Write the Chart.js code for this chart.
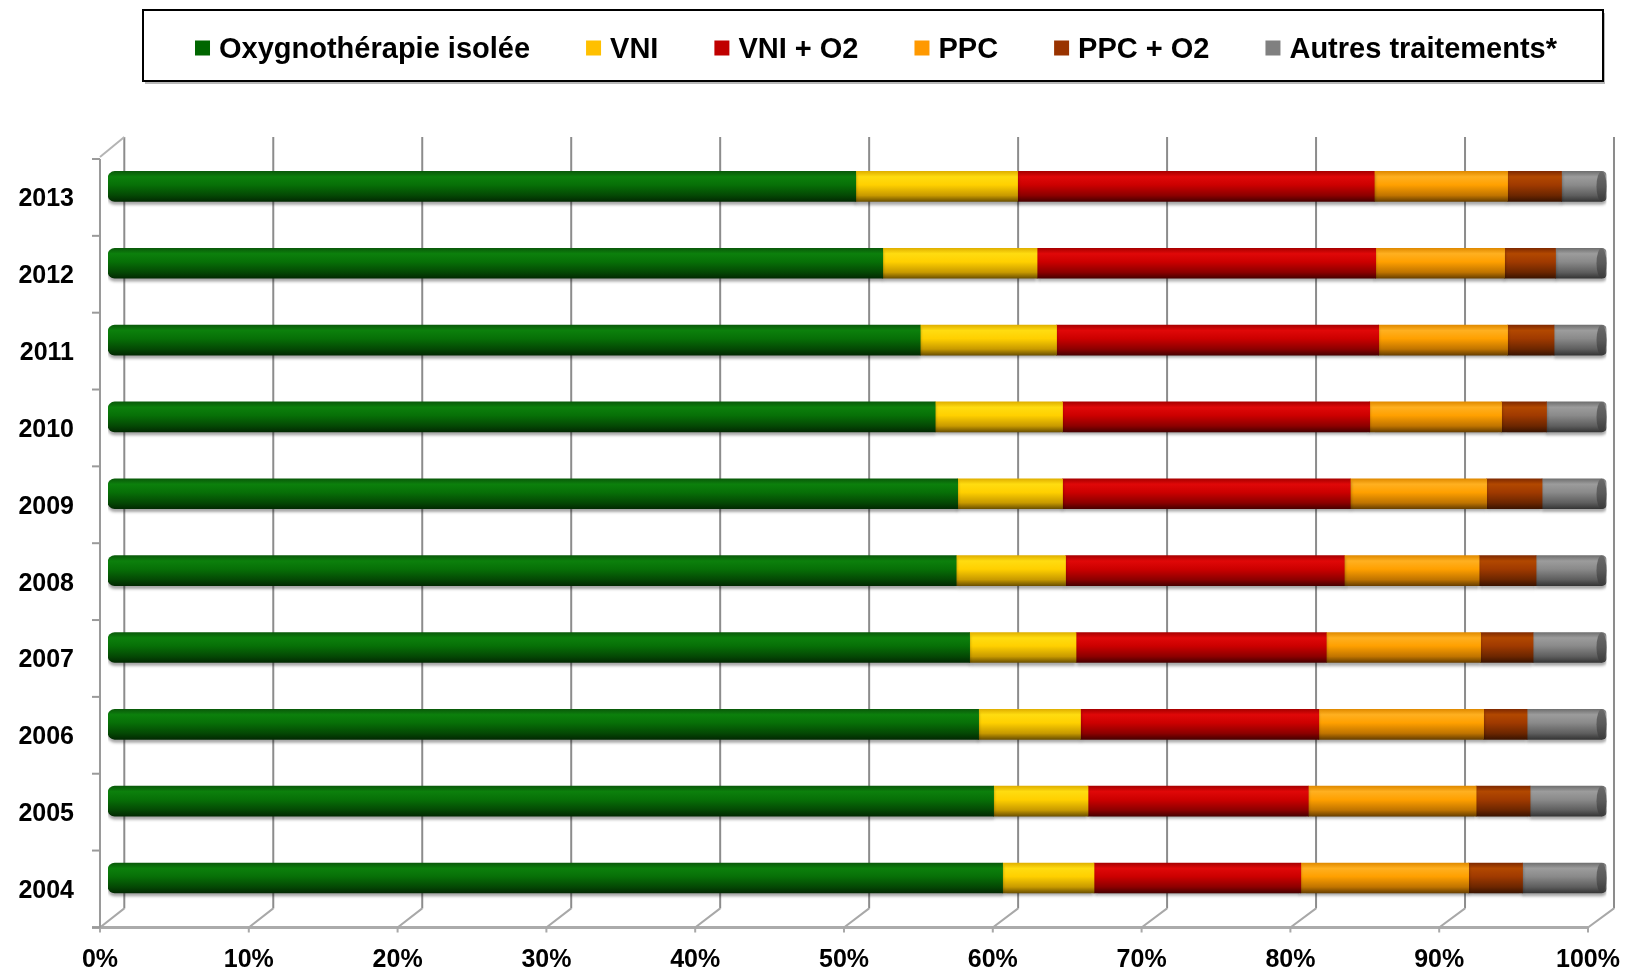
<!DOCTYPE html>
<html>
<head>
<meta charset="utf-8">
<script src="https://cdn.jsdelivr.net/npm/chart.js@4/dist/chart.umd.min.js"></script>
<style>
html,body{margin:0;padding:0;background:#ffffff;}
canvas{display:block;}
</style>
</head>
<body>
<canvas id="c" width="1625" height="973"></canvas>
<script>
// ---------- DATA ----------
const years = ['2004','2005','2006','2007','2008','2009','2010','2011','2012','2013'];
const seriesNames = ['Oxygnothérapie isolée','VNI','VNI + O2','PPC','PPC + O2','Autres traitements*'];
const oxygeno   = [59.7, 59.1, 58.1, 57.5, 56.6, 56.7, 55.2, 54.2, 51.7, 49.9];
const vni       = [ 6.1,  6.3,  6.8,  7.1,  7.3,  7.0,  8.5,  9.1, 10.3, 10.8];
const vniO2     = [13.8, 14.7, 15.9, 16.7, 18.6, 19.2, 20.5, 21.5, 22.6, 23.8];
const ppc       = [11.2, 11.2, 11.0, 10.3,  9.0,  9.1,  8.8,  8.6,  8.6,  8.9];
const ppcO2     = [ 3.6,  3.6,  2.9,  3.5,  3.8,  3.7,  3.0,  3.1,  3.4,  3.6];
const autres    = [ 5.6,  5.1,  5.3,  4.9,  4.7,  4.3,  4.0,  3.5,  3.4,  3.0];
const tickValues = [0,10,20,30,40,50,60,70,80,90,100];

// ---------- STYLE ----------
const FONT = '"Liberation Sans", Arial, Helvetica, sans-serif';
const palette = [
  {legend:'#006600', top:'#0a5a0a', light:'#0c800c', base:'#077007', dark:'#044804', darkest:'#022a02'},
  {legend:'#ffc000', top:'#e0b000', light:'#ffdc10', base:'#ffd000', dark:'#c89a00', darkest:'#6e5200'},
  {legend:'#c00000', top:'#a80000', light:'#e00808', base:'#cc0000', dark:'#8c0000', darkest:'#4a0000'},
  {legend:'#ff9900', top:'#e08a00', light:'#ffb020', base:'#ffa000', dark:'#c07400', darkest:'#6a4000'},
  {legend:'#993300', top:'#802a00', light:'#b24800', base:'#a03a00', dark:'#6c2600', darkest:'#3c1400'},
  {legend:'#808080', top:'#707070', light:'#9c9c9c', base:'#8a8a8a', dark:'#5e5e5e', darkest:'#363636'}
];
const BAR_H = 30;

function cylinder(c) {
  return (ctx) => {
    const chart = ctx.chart;
    if (ctx.type !== 'data' || !chart.scales || !chart.scales.y) return c.base;
    const yc = chart.scales.y.getPixelForValue(ctx.dataIndex);
    if (!isFinite(yc)) return c.base;
    const g = chart.ctx.createLinearGradient(0, yc - BAR_H/2, 0, yc + BAR_H/2);
    g.addColorStop(0, c.top);
    g.addColorStop(0.18, c.light);
    g.addColorStop(0.45, c.base);
    g.addColorStop(0.8, c.dark);
    g.addColorStop(1, c.darkest);
    return g;
  };
}

const seriesData = [oxygeno, vni, vniO2, ppc, ppcO2, autres];
const datasets = seriesData.map((d, i) => {
  const ds = {
    label: seriesNames[i],
    data: d,
    legendColor: palette[i].legend,
    backgroundColor: cylinder(palette[i]),
    borderWidth: 0,
    barThickness: BAR_H
  };
  if (i === 0) { ds.borderSkipped = false; ds.borderRadius = {topLeft: 7, bottomLeft: 7, topRight: 0, bottomRight: 0}; }
  if (i === seriesData.length - 1) { ds.borderSkipped = false; ds.borderRadius = {topLeft: 0, bottomLeft: 0, topRight: 5, bottomRight: 5}; }
  return ds;
});

// ---------- PLUGINS ----------
const frame3d = {
  id: 'frame3d',
  beforeDatasetsDraw(chart) {
    const ctx = chart.ctx, a = chart.chartArea;
    const xb = chart.scales.xb, xf = chart.scales.xf;
    const yBackTop = a.top - 11, yBackBottom = a.bottom - 8, yFront = a.bottom + 11;
    ctx.save();
    ctx.strokeStyle = '#ababab';
    ctx.lineWidth = 3;
    ctx.beginPath();
    ctx.moveTo(xf.getPixelForValue(0) - 8, yFront);
    ctx.lineTo(xf.getPixelForValue(100), yFront);
    ctx.stroke();
    ctx.lineWidth = 2;
    tickValues.forEach(v => {
      const xB = xb.getPixelForValue(v), xF = xf.getPixelForValue(v);
      ctx.strokeStyle = '#8c8c8c';
      ctx.beginPath();
      ctx.moveTo(xB, yBackTop);
      ctx.lineTo(xB, yBackBottom);
      ctx.stroke();
      ctx.strokeStyle = '#a8a8a8';
      ctx.beginPath();
      ctx.moveTo(xB, yBackBottom);
      ctx.lineTo(xF, yFront);
      ctx.lineTo(xF, yFront + 5);
      ctx.stroke();
    });
    const xL = xf.getPixelForValue(0), xLB = xb.getPixelForValue(0);
    ctx.strokeStyle = '#9a9a9a';
    ctx.beginPath();
    ctx.moveTo(xL, a.top + 11);
    ctx.lineTo(xL, yFront);
    ctx.stroke();
    ctx.strokeStyle = '#b4b4b4';
    ctx.beginPath();
    ctx.moveTo(xL, a.top + 9);
    ctx.lineTo(xLB, yBackTop);
    ctx.stroke();
    ctx.strokeStyle = '#9a9a9a';
    const n = years.length, step = (a.bottom - a.top) / n;
    for (let i = 0; i <= n; i++) {
      const yy = a.top + 11 + i * step;
      ctx.beginPath();
      ctx.moveTo(xL - 8, yy);
      ctx.lineTo(xL, yy);
      ctx.stroke();
    }
    ctx.restore();
  }
};

const barShadow = {
  id: 'barShadow',
  beforeDatasetDraw(chart) {
    const ctx = chart.ctx;
    ctx.save();
    ctx.shadowColor = 'rgba(0,0,0,0.35)';
    ctx.shadowOffsetY = 3;
    ctx.shadowBlur = 3;
  },
  afterDatasetDraw(chart) {
    chart.ctx.restore();
  }
};

const endCaps = {
  id: 'endCaps',
  afterDatasetsDraw(chart) {
    const ctx = chart.ctx;
    const meta = chart.getDatasetMeta(chart.data.datasets.length - 1);
    ctx.save();
    meta.data.forEach(el => {
      const h = el.height;
      const g = ctx.createLinearGradient(0, el.y - h/2, 0, el.y + h/2);
      g.addColorStop(0, '#6a6a6a');
      g.addColorStop(0.5, '#5a5a5a');
      g.addColorStop(1, '#3a3a3a');
      ctx.fillStyle = g;
      ctx.beginPath();
      ctx.ellipse(el.x - 5, el.y, 5, h/2, 0, 0, Math.PI * 2);
      ctx.fill();
    });
    ctx.restore();
  }
};

const legendBox = {
  id: 'legendBox',
  afterDraw(chart) {
    const ctx = chart.ctx;
    const bx = 143, by = 10, bw = 1460, bh = 71;
    ctx.save();
    ctx.fillStyle = '#b8b8b8';
    ctx.fillRect(bx + 2, by + 3, bw, bh);
    ctx.fillStyle = '#ffffff';
    ctx.fillRect(bx, by, bw, bh);
    ctx.strokeStyle = '#000000';
    ctx.lineWidth = 2;
    ctx.strokeRect(bx, by, bw, bh);
    ctx.font = 'bold 29px ' + FONT;
    ctx.textBaseline = 'middle';
    const sq = 15, gapBox = 9, gap = 56;
    const items = chart.data.datasets.map(d => ({label: d.label, color: d.legendColor, w: ctx.measureText(d.label).width}));
    const total = items.reduce((s, it) => s + sq + gapBox + it.w, 0) + gap * (items.length - 1);
    let x = bx + bw / 2 - total / 2 + 3;
    const cy = by + bh / 2 + 4;
    items.forEach(it => {
      ctx.fillStyle = it.color;
      ctx.fillRect(x, cy - 9, sq, sq);
      x += sq + gapBox;
      ctx.fillStyle = '#000000';
      ctx.fillText(it.label, x, cy);
      x += it.w + gap;
    });
    ctx.restore();
  }
};

// ---------- CHART ----------
new Chart(document.getElementById('c').getContext('2d'), {
  type: 'bar',
  data: { labels: years, datasets: datasets },
  options: {
    responsive: false,
    animation: false,
    devicePixelRatio: 1,
    indexAxis: 'y',
    layout: { padding: { top: 148, right: 18.5, bottom: 0, left: 0 } },
    plugins: { legend: { display: false }, tooltip: { enabled: false } },
    scales: {
      x: { type: 'linear', stacked: true, min: 0, max: 100, display: false },
      xb: { type: 'linear', position: 'top', min: -1.094, max: 99.497, display: false },
      xf: {
        type: 'linear', position: 'bottom', min: 0.538, max: 101.243, bounds: 'data',
        grid: { display: false, drawTicks: false },
        border: { display: false },
        ticks: {
          autoSkip: false, padding: 29, color: '#000000',
          font: { family: FONT, size: 25, weight: 'bold' },
          callback: (v) => v + '%'
        },
        afterBuildTicks: (s) => { s.ticks = tickValues.map(v => ({ value: v })); },
        afterFit: (s) => { s.height = 56.6; s.paddingLeft = 0; s.paddingRight = 0; }
      },
      y: {
        type: 'category', stacked: true, reverse: true,
        grid: { display: false, drawTicks: false },
        border: { display: false },
        ticks: {
          padding: 34, labelOffset: 13, color: '#000000',
          font: { family: FONT, size: 25, weight: 'bold' }
        },
        afterFit: (s) => { s.width = 108; s.paddingTop = 0; s.paddingBottom = 0; }
      }
    }
  },
  plugins: [frame3d, barShadow, endCaps, legendBox]
});
</script>
</body>
</html>
